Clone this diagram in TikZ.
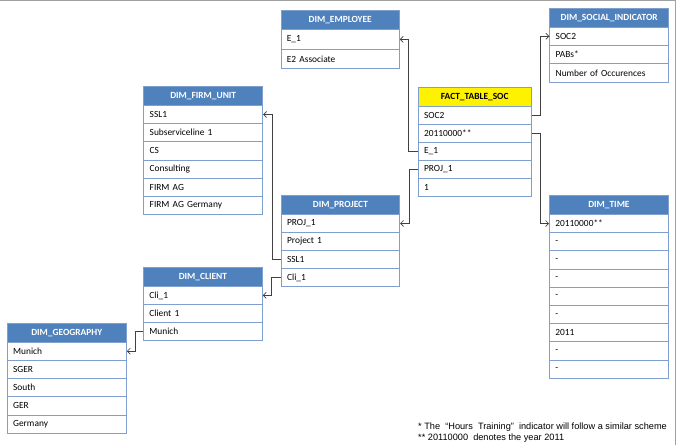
\documentclass[tikz,border=0pt]{standalone}
\usepackage{fontspec}
\setmainfont{Carlito}
\newfontfamily\notefont{Liberation Sans}
\usetikzlibrary{arrows.meta}
\definecolor{hdrblue}{HTML}{4F81BD}
\definecolor{bordblue}{HTML}{7F9FCF}
\definecolor{conncol}{HTML}{404040}
\definecolor{framegray}{HTML}{A0A0A0}
\newcommand\dimtable[9]{%
  \pgfmathsetmacro\tblw{#4-12}%
  \node[hdr,#8,minimum width=#4pt,minimum height=#5pt,anchor=north west] (#1-0) at (#2,#3) {#7};
  \foreach \rowtxt [count=\i] in {#9}{
    \node[rowbox,text width=\tblw pt,minimum height=#6pt,anchor=north west] (#1-\i) at (#2,{#3+#5+(\i-1)*#6}) {\rowtxt};
  }%
}
\tikzset{
  hdr/.style={draw=bordblue,line width=0.8pt,font=\bfseries\fontsize{9.4}{10}\selectfont,inner sep=0pt},
  hdrb/.style={fill=hdrblue,text=white},
  hdry/.style={fill=yellow,text=black},
  rowbox/.style={draw=bordblue,line width=0.8pt,fill=white,inner xsep=6pt,inner ysep=0pt,align=left,font=\fontsize{9.4}{10}\selectfont},
  conn/.style={draw=conncol,line width=0.7pt,-{Straight Barb[length=3pt,width=6pt]}},
  note/.style={anchor=west,inner sep=0pt,font=\notefont\fontsize{9.2}{10}\selectfont},
}
\begin{document}
\begin{tikzpicture}[x=1pt,y=-1pt]
\useasboundingbox (0,0) rectangle (678,445);
\fill[white] (0,0) rectangle (678,445);
\draw[framegray,line width=1pt] (0,0.5) -- (675.5,0.5) -- (675.5,445);

\dimtable{emp}{280.5}{10}{118.5}{19.3}{19.4}{DIM\_EMPLOYEE}{hdrb}{E\_1,E2 Associate}
\dimtable{soc}{549.3}{8.3}{119}{18.4}{18.3}{DIM\_SOCIAL\_INDICATOR}{hdrb}{SOC2,PABs*,Number of Occurences}
\dimtable{fact}{417.7}{86.7}{113.3}{19.3}{18}{FACT\_TABLE\_SOC}{hdry}{SOC2,20110000**,E\_1,PROJ\_1,1}
\dimtable{time}{549}{195}{119}{19}{18.2}{DIM\_TIME}{hdrb}{20110000**,-,-,-,-,-,2011,-,-}
\dimtable{firm}{143.3}{86}{119}{19}{18.17}{DIM\_FIRM\_UNIT}{hdrb}{SSL1,Subserviceline 1,CS,Consulting,FIRM AG,FIRM AG Germany}
\dimtable{proj}{280.7}{195}{118.6}{19}{18}{DIM\_PROJECT}{hdrb}{PROJ\_1,Project 1,SSL1,Cli\_1}
\dimtable{cli}{143}{267.3}{119}{18.7}{18}{DIM\_CLIENT}{hdrb}{Cli\_1,Client 1,Munich}
\dimtable{geo}{6.7}{322.7}{119.3}{19}{18.2}{DIM\_GEOGRAPHY}{hdrb}{Munich,SGER,South,GER,Germany}

\draw[conn] (fact-3.west) -- ++(-9.4,0) |- (emp-1.east);
\draw[conn] (fact-1.east) -- ++(9,0) |- (soc-1.west);
\draw[conn] (fact-2.east) -- ++(8.5,0) |- (time-1.west);
\draw[conn] (fact-4.west) -- ++(-8.4,0) |- (proj-1.east);
\draw[conn] (proj-3.west) -- ++(-8,0) |- (firm-1.east);
\draw[conn] (proj-4.west) -- ++(-9,0) |- (cli-1.east);
\draw[conn] (cli-3.west) -- ++(-8,0) |- (geo-1.east);

\node[note] (note1) at (418,427) {* The \ “Hours \ Training” \ indicator will follow a similar scheme};
\node[note] (note2) at (418,438) {** 20110000 \ denotes the year 2011};
\end{tikzpicture}
\end{document}
